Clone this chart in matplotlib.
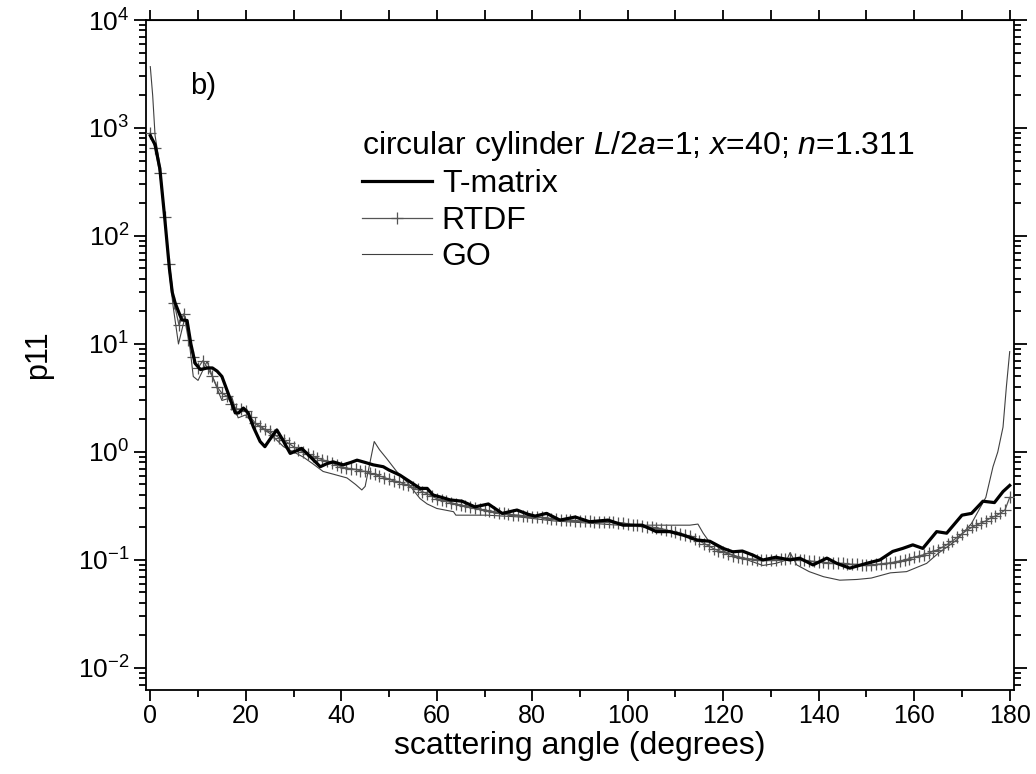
#!/usr/bin/env python3
"""
Phase function p11 of a circular cylinder: T-matrix vs RTDF vs GO.
"""

import matplotlib
matplotlib.use("Agg")
import matplotlib.pyplot as plt
from matplotlib.ticker import MultipleLocator, LogLocator, NullFormatter

plt.rcParams['font.family'] = ['Liberation Sans', 'DejaVu Sans']
plt.rcParams['mathtext.fontset'] = 'custom'
plt.rcParams['mathtext.rm'] = 'Liberation Sans'
plt.rcParams['mathtext.it'] = 'Liberation Sans:italic'

# T-matrix (thick black)
tm_angle = [0, 1, 2, 3, 4, 4.6, 5.2, 6.6, 7.7, 8.5, 9.4, 10.5, 12, 13, 14, 15,
            16.3, 17.8, 18.5, 19.5, 20.5, 21.6, 23, 24, 25, 26.5, 27.5, 29.3,
            30.5, 31.7, 33, 35.6, 37, 38.3, 40.4, 42, 43.3, 45, 46.7, 48.8, 50,
            52.3, 54.4, 56.5, 58, 59.2, 61, 62.8, 65.3, 68, 70.8, 73.7, 76.8,
            79.1, 80.6, 83, 85.8, 89, 92, 95.9, 99, 103, 106, 108.8, 111.6,
            114.5, 117.2, 120, 122, 124, 126.2, 128.3, 131, 134, 136, 138.8,
            141.7, 143.8, 146.5, 150, 152.8, 155.5, 157.6, 159.7, 161.8, 164.7,
            166.8, 170, 172, 174.4, 176.8, 178.6, 180]
tm_p11 = [850, 700, 420, 150, 50, 30, 24, 16.7, 16.5, 10, 6.6, 5.8, 6.0, 6.0,
          5.6, 5.0, 3.5, 2.3, 2.3, 2.55, 2.3, 1.7, 1.25, 1.12, 1.3, 1.6, 1.35,
          0.97, 1.02, 1.08, 0.95, 0.73, 0.78, 0.81, 0.76, 0.8, 0.84, 0.8, 0.76,
          0.73, 0.68, 0.61, 0.53, 0.46, 0.46, 0.40, 0.38, 0.36, 0.35, 0.31,
          0.33, 0.27, 0.29, 0.265, 0.255, 0.27, 0.234, 0.25, 0.226, 0.234,
          0.21, 0.21, 0.183, 0.183, 0.17, 0.153, 0.149, 0.128, 0.119, 0.121,
          0.111, 0.1, 0.106, 0.1, 0.104, 0.09, 0.104, 0.093, 0.084, 0.093, 0.1,
          0.12, 0.128, 0.138, 0.128, 0.183, 0.177, 0.26, 0.27, 0.35, 0.34,
          0.43, 0.49]

# RTDF (thin grey with + markers, one value per degree)
rtdf_angle = list(range(0, 181))
rtdf_p11 = [900, 650, 380, 150, 55, 24, 15, 19, 11, 7.5,
            6.0, 7.0, 6.0, 5.0, 4.0, 3.5, 3.3, 2.8, 2.5, 2.5,
            2.4, 2.1, 1.85, 1.75, 1.62, 1.55, 1.45, 1.35, 1.28, 1.2,
            1.12, 1.05, 1.0, 0.95, 0.91, 0.88, 0.85, 0.82, 0.79, 0.76,
            0.73, 0.71, 0.70, 0.69, 0.67, 0.66, 0.64, 0.62, 0.60, 0.58,
            0.56, 0.54, 0.53, 0.51, 0.49, 0.47, 0.45, 0.43, 0.41, 0.39,
            0.37, 0.36, 0.35, 0.34, 0.33, 0.32, 0.315, 0.31, 0.30, 0.295,
            0.29, 0.285, 0.28, 0.275, 0.27, 0.265, 0.262, 0.26, 0.257, 0.255,
            0.252, 0.25, 0.248, 0.245, 0.242, 0.24, 0.237, 0.235, 0.234, 0.232,
            0.23, 0.23, 0.228, 0.227, 0.226, 0.226, 0.225, 0.224, 0.222, 0.221,
            0.215, 0.213, 0.21, 0.207, 0.204, 0.20, 0.198, 0.195, 0.19, 0.185,
            0.18, 0.175, 0.17, 0.165, 0.158, 0.15, 0.142, 0.135, 0.127, 0.122,
            0.118, 0.114, 0.11, 0.107, 0.105, 0.103, 0.102, 0.101, 0.10, 0.10,
            0.10, 0.101, 0.102, 0.103, 0.104, 0.103, 0.10, 0.099, 0.098, 0.097,
            0.096, 0.095, 0.094, 0.093, 0.093, 0.093, 0.092, 0.091, 0.091, 0.09,
            0.09, 0.09, 0.091, 0.092, 0.093, 0.094, 0.096, 0.098, 0.10, 0.103,
            0.106, 0.109, 0.112, 0.116, 0.12, 0.125, 0.132, 0.14, 0.15, 0.162,
            0.175, 0.188, 0.20, 0.21, 0.22, 0.23, 0.245, 0.255, 0.27, 0.29,
            0.38]

# Geometric optics (thin grey)
go_angle = [0, 0.5, 1, 2, 3, 4, 4.8, 5.9, 7.3, 8, 9, 10, 11.9, 13, 15, 17.1,
            18.4, 19.9, 20.9, 23, 25, 27.9, 30, 32, 34, 36.2, 38.5, 41.2, 43,
            44.3, 45, 46.9, 48, 49.5, 51.6, 53.7, 56.5, 58, 60, 63.5, 64, 70.5,
            77.4, 84.4, 91.4, 98, 107, 113, 114.7, 115.8, 117, 120.8, 124,
            128.3, 131, 133.3, 134, 135.4, 138, 141, 144.4, 148, 151, 155,
            158.4, 162.6, 165, 168.9, 172, 175, 176.5, 177.5, 178.6, 179.3, 180]
go_p11 = [3700, 2000, 850, 450, 160, 45, 22, 10, 18, 12, 5, 4.6, 6.9, 5, 3.0,
          3.2, 2.07, 2.2, 1.98, 1.7, 1.49, 1.12, 1.0, 0.9, 0.78, 0.66, 0.62,
          0.575, 0.5, 0.445, 0.48, 1.25, 1.05, 0.87, 0.66, 0.53, 0.37, 0.33,
          0.30, 0.28, 0.26, 0.26, 0.25, 0.23, 0.22, 0.21, 0.21, 0.21, 0.215,
          0.177, 0.149, 0.116, 0.104, 0.089, 0.093, 0.1, 0.117, 0.09, 0.078,
          0.07, 0.065, 0.066, 0.068, 0.076, 0.078, 0.093, 0.115, 0.153, 0.218,
          0.38, 0.73, 1.0, 1.7, 4.0, 8.5]

x_ticks = list(range(0, 181, 20))
x_tick_labels = [str(t) for t in x_ticks]


def main():
    fig = plt.figure(figsize=(10.36, 7.74), dpi=100)
    ax = fig.add_axes([146 / 1036, 1 - 690 / 774, (1014 - 146) / 1036, 670 / 774])

    ax.plot(go_angle, go_p11, color='#404040', linewidth=0.8, label='GO', zorder=2)
    ax.plot(rtdf_angle, rtdf_p11, color='#555555', linewidth=0.9, marker='+',
            markersize=8, markeredgewidth=0.9, label='RTDF', zorder=3)
    ax.plot(tm_angle, tm_p11, color='black', linewidth=2.3, label='T-matrix', zorder=4)

    ax.set_yscale('log')
    ax.set_xlim(-0.9, 180.9)
    ax.set_ylim(10 ** -2.204, 1e4)

    ax.set_xticks(x_ticks, labels=x_tick_labels, fontsize=18)
    ax.xaxis.set_minor_locator(MultipleLocator(10))
    ax.yaxis.set_major_locator(LogLocator(base=10, numticks=20))
    ax.yaxis.set_minor_locator(LogLocator(base=10, subs=range(2, 10), numticks=20))
    ax.yaxis.set_minor_formatter(NullFormatter())

    ax.tick_params(axis='both', which='both', direction='out', width=1.3,
                   top=False, right=True)
    ax.tick_params(axis='x', which='major', length=8, pad=2)
    ax.tick_params(axis='x', which='minor', length=5)
    ax.tick_params(axis='y', which='major', length=9, pad=3, labelsize=19)
    ax.tick_params(axis='y', which='minor', length=5)

    # top axis: ticks every 10 degrees, no labels
    top = ax.secondary_xaxis('top')
    top.xaxis.set_major_locator(MultipleLocator(10))
    top.tick_params(direction='out', length=7, width=1.3, labeltop=False)

    for s in ax.spines.values():
        s.set_linewidth(1.3)

    ax.set_xlabel('scattering angle (degrees)', fontsize=23, va='center')
    ax.xaxis.set_label_coords(0.5, -(746 - 690) / 670)
    ax.set_ylabel('p11', fontsize=22, labelpad=18)

    ax.text(190 / 1036, 1 - 86 / 774, 'b)', transform=fig.transFigure,
            fontsize=21, va='center', ha='left')

    handles, labels = ax.get_legend_handles_labels()
    order = [2, 1, 0]
    ax.legend([handles[i] for i in order], [labels[i] for i in order],
              title='circular cylinder $L$/2$a$=1; $x$=40; $n$=1.311',
              loc='upper left', bbox_to_anchor=(346 / 1036, 1 - 113 / 774),
              bbox_transform=fig.transFigure, frameon=False, fontsize=23,
              title_fontsize=23, handlelength=2.2, handletextpad=0.3,
              labelspacing=0.2, borderpad=0, numpoints=1,
              alignment='left')

    fig.savefig('out.png', dpi=100)


if __name__ == "__main__":
    main()
